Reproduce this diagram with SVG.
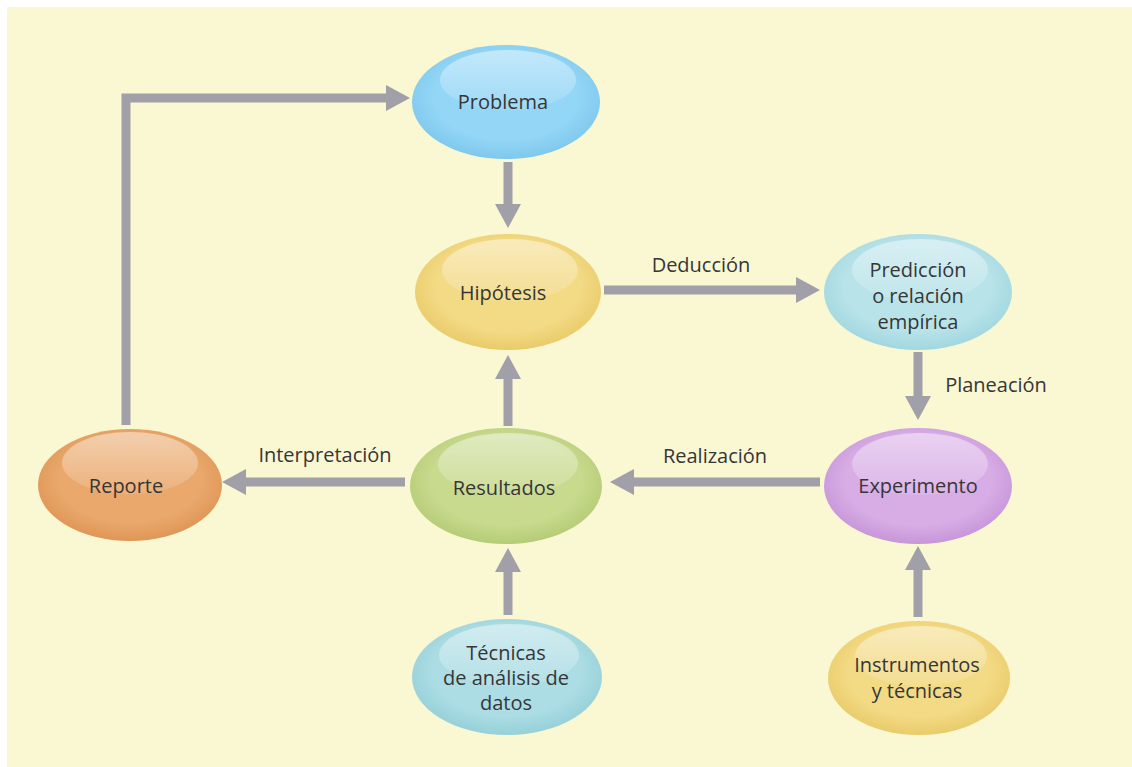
<svg xmlns="http://www.w3.org/2000/svg" width="1132" height="767" viewBox="0 0 1132 767">
  <defs>
    <style>
      .lbl { font-family: "Open Sans", "Liberation Sans", sans-serif; font-size: 20px; fill: #363636; text-anchor: middle; }
      .edge { font-family: "Open Sans", "Liberation Sans", sans-serif; font-size: 20px; fill: #363636; text-anchor: middle; }
      .conn { stroke: #a19fa8; stroke-width: 9; fill: none; marker-end: url(#ah); }
      .hl { fill: url(#hlg); }
    </style>
    <marker id="ah" viewBox="0 0 24 26" refX="0" refY="13" markerWidth="24" markerHeight="26" markerUnits="userSpaceOnUse" orient="auto">
      <path d="M0,0 L24,13 L0,26 Z" fill="#a19fa8"/>
    </marker>
    <linearGradient id="hlg" x1="0" y1="0" x2="0" y2="1">
      <stop offset="0" stop-color="#ffffff" stop-opacity="0.45"/>
      <stop offset="1" stop-color="#ffffff" stop-opacity="0.1"/>
    </linearGradient>
    <radialGradient id="gBlue" cx="0.5" cy="0.45" r="0.55">
      <stop offset="0.7" stop-color="#93d6f6"/>
      <stop offset="1" stop-color="#7fc8ec"/>
    </radialGradient>
    <radialGradient id="gYel" cx="0.5" cy="0.45" r="0.55">
      <stop offset="0.7" stop-color="#f3da85"/>
      <stop offset="1" stop-color="#e9cb6a"/>
    </radialGradient>
    <radialGradient id="gCyan" cx="0.5" cy="0.45" r="0.55">
      <stop offset="0.7" stop-color="#b8e3e9"/>
      <stop offset="1" stop-color="#a2d7df"/>
    </radialGradient>
    <radialGradient id="gPurp" cx="0.5" cy="0.45" r="0.55">
      <stop offset="0.7" stop-color="#d8ade6"/>
      <stop offset="1" stop-color="#c796d8"/>
    </radialGradient>
    <radialGradient id="gGreen" cx="0.5" cy="0.45" r="0.55">
      <stop offset="0.7" stop-color="#c8da8e"/>
      <stop offset="1" stop-color="#b5cc76"/>
    </radialGradient>
    <radialGradient id="gOrange" cx="0.5" cy="0.45" r="0.55">
      <stop offset="0.7" stop-color="#eaa86c"/>
      <stop offset="1" stop-color="#de9656"/>
    </radialGradient>
    <radialGradient id="gTeal" cx="0.5" cy="0.45" r="0.55">
      <stop offset="0.7" stop-color="#acdde4"/>
      <stop offset="1" stop-color="#96d0d9"/>
    </radialGradient>
  </defs>

  <rect x="0" y="0" width="1132" height="767" fill="#ffffff"/>
  <rect x="7" y="7" width="1125" height="760" fill="#faf7d3"/>

  <g id="connectors">
    <path class="conn" d="M508,162 V204"/>
    <path class="conn" d="M604,290 H796"/>
    <path class="conn" d="M918,352 V396"/>
    <path class="conn" d="M820,482 H634"/>
    <path class="conn" d="M508,426 V379"/>
    <path class="conn" d="M405,482 H246"/>
    <path class="conn" d="M508,615 V572"/>
    <path class="conn" d="M918,617 V570"/>
    <path class="conn" d="M126,425 V98 H386"/>
    <text class="edge" x="701" y="272">Deducción</text>
    <text class="edge" x="996" y="392">Planeación</text>
    <text class="edge" x="715" y="463">Realización</text>
    <text class="edge" x="325" y="462">Interpretación</text>
  </g>

  <g id="problema">
    <ellipse cx="506" cy="102" rx="94" ry="57" fill="url(#gBlue)"/>
    <ellipse class="hl" cx="508" cy="80" rx="68" ry="30"/>
    <text class="lbl" x="503" y="109">Problema</text>
  </g>

  <g id="hipotesis">
    <ellipse cx="508" cy="292" rx="93" ry="58" fill="url(#gYel)"/>
    <ellipse class="hl" cx="510" cy="270" rx="68" ry="31"/>
    <text class="lbl" x="503" y="300">Hipótesis</text>
  </g>

  <g id="prediccion">
    <ellipse cx="918" cy="292" rx="94" ry="58" fill="url(#gCyan)"/>
    <ellipse class="hl" cx="920" cy="270" rx="68" ry="31"/>
    <text class="lbl" x="918" y="277">Predicción</text>
    <text class="lbl" x="918" y="303">o relación</text>
    <text class="lbl" x="918" y="329">empírica</text>
  </g>

  <g id="experimento">
    <ellipse cx="918" cy="486" rx="94" ry="58" fill="url(#gPurp)"/>
    <ellipse class="hl" cx="920" cy="464" rx="68" ry="31"/>
    <text class="lbl" x="918" y="493">Experimento</text>
  </g>

  <g id="resultados">
    <ellipse cx="506" cy="486" rx="96" ry="58" fill="url(#gGreen)"/>
    <ellipse class="hl" cx="508" cy="464" rx="70" ry="31"/>
    <text class="lbl" x="504" y="495">Resultados</text>
  </g>

  <g id="reporte">
    <ellipse cx="130" cy="485" rx="92" ry="56" fill="url(#gOrange)"/>
    <ellipse class="hl" cx="130" cy="463" rx="68" ry="31"/>
    <text class="lbl" x="126" y="493">Reporte</text>
  </g>

  <g id="tecnicas">
    <ellipse cx="507" cy="677" rx="95" ry="58" fill="url(#gTeal)"/>
    <ellipse class="hl" cx="509" cy="655" rx="70" ry="31"/>
    <text class="lbl" x="506" y="660">Técnicas</text>
    <text class="lbl" x="506" y="685">de análisis de</text>
    <text class="lbl" x="506" y="710">datos</text>
  </g>

  <g id="instrumentos">
    <ellipse cx="919" cy="678" rx="91" ry="57" fill="url(#gYel)"/>
    <ellipse class="hl" cx="921" cy="656" rx="66" ry="30"/>
    <text class="lbl" x="917" y="672">Instrumentos</text>
    <text class="lbl" x="917" y="698">y técnicas</text>
  </g>
</svg>
